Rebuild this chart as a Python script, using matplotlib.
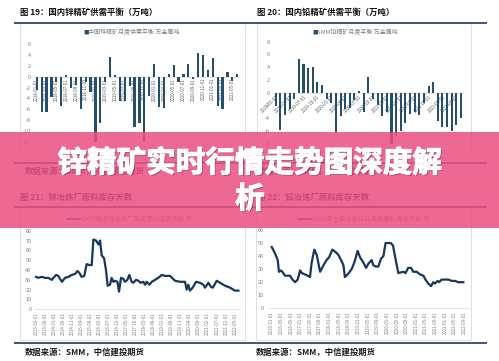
import matplotlib
matplotlib.use('Agg')
import matplotlib.pyplot as plt
import matplotlib.patheffects as pe
from matplotlib.patches import Rectangle
import pandas as pd

plt.rcParams['font.family'] = ['Noto Sans CJK SC', 'DejaVu Sans']
plt.rcParams['axes.unicode_minus'] = False

W, H = 499, 361
BAR = '#24506e'
LINE = '#17375e'
NAVY = '#1f3864'
GRID = '#d9d9d9'
GRAY = '#808080'

# ---- data ----
# fig 19: zinc concentrate monthly balance (10k t metal)
zn_balance = [-2.5, -6.6, -6.6, -3.8, -1.0, -5.4, 0.3, -2.0, -1.5, -6.0,
              -1.0, -2.9, -12.0, -8.5, -1.0, 3.6, 0.3, -4.4, -4.4, -1.7,
              -9.3, -8.6, -12.0, -3.5, 2.3, -5.6, -5.7, 0.5, 2.2, -0.9,
              0.5, 2.3, -0.5, 4.4, 4.0, 1.2, 3.5, -5.4, -6.0, 0.8,
              -0.7, 0.5]
zn_bar_labels = pd.date_range('2018-01-01', periods=len(zn_balance), freq='MS').strftime('%Y-%m-%d')

# fig 20: lead concentrate monthly balance
pb_balance = [-2.1, -5.8, -3.5, -2.6, -1.0, 5.3, 4.5, 3.9, 4.0, 1.7,
              1.2, -1.0, -1.6, -6.3, -3.7, -2.6, -2.4, -1.1, 0.3, -3.0,
              2.5, -1.0, -1.9, -3.7, -3.0, -8.3, -6.8, -6.0, -4.7, -3.4,
              -3.0, -3.5, -1.6, 1.0, 1.6, -4.4, -5.4, -5.4, -6.0, -5.1,
              -3.9]
pb_bar_labels = pd.date_range('2019-01-01', periods=len(pb_balance), freq='MS').strftime('%Y-%m-%d')

# fig 21: zinc smelter raw material stock days (x = months since 2013-03)
zn_month = [0, 1.3, 3.1, 5.0, 6.8, 8.7, 9.6, 11.1, 12.3, 13.6, 14.4, 16.0, 17.9,
            19.7, 21.6, 22.9, 24.0, 25.2, 26.7, 28.0, 29.5, 30.8, 31.7, 33.2,
            34.5, 35.4, 36.3, 37.6, 38.7, 39.6, 40.9, 41.8, 42.8, 43.7, 45.0,
            45.9, 47.0, 48.3, 49.2, 50.5, 51.6, 52.9, 53.8, 55.3, 56.6, 57.9,
            59.3, 60.3, 61.2, 62.7, 64.0, 65.8, 67.6, 69.5, 71.3, 74.1, 76.9,
            79.6, 82.4, 83.3, 84.2, 85.1, 86.6, 88.5, 90.7, 92.5, 93.4, 95.3,
            96.6, 97.7, 99.9, 101.7, 104.5, 107.3, 110.0, 111.9]
zn_days = [33, 32, 33, 32, 32, 30, 32, 35, 34, 30, 28, 32, 33,
           35, 36, 39, 37, 33, 34, 46, 45, 45, 71, 70,
           66, 70, 55, 52, 40, 24, 25, 32, 28, 29, 28,
           18, 32, 31, 28, 30, 35, 28, 27, 30, 29, 27,
           28, 25, 28, 25, 28, 30, 32, 35, 34, 34, 29,
           28, 28, 20, 25, 19, 22, 28, 27, 25, 22, 27,
           23, 22, 29, 27, 24, 22, 19, 19]
zn_ticks = pd.date_range('2013-03-01', periods=23, freq='5MS').strftime('%Y-%m-%d')

# fig 22: lead smelter raw material stock days (x = months since 2016-01)
pb_month = [0, 1.4, 2.5, 3.0, 3.9, 4.4, 5.5, 6.9, 7.6, 8.6, 9.7, 10.8, 11.8,
            12.5, 13.8, 14.9, 15.9, 16.6, 17.7, 18.7, 20.1, 21.5, 22.8, 23.8,
            25.2, 26.6, 27.7, 28.8, 29.8, 30.4, 31.6, 33.2, 34.3, 35.7, 36.7,
            38.1, 39.2, 40.1, 41.5, 42.2, 43.2, 44.3, 45.4, 46.4, 47.3, 48.2,
            49.5, 50.4, 51.2, 52.6, 54.7, 55.6, 56.7, 57.9, 58.8, 60.2, 61.6,
            63.0, 63.9, 65.0, 66.2, 67.1, 67.8, 68.9, 69.5, 70.6, 72.0, 73.4,
            74.7, 76.1, 77.5, 79.6]
pb_days = [47, 42, 37, 28, 29, 28, 25, 25, 25, 22, 20, 22, 29,
           27, 26, 25, 24, 35, 45, 41, 28, 33, 37, 39,
           45, 43, 41, 37, 33, 24, 26, 30, 35, 44, 39,
           35, 31, 34, 37, 33, 32, 32, 38, 40, 50, 50,
           50, 48, 40, 27, 28, 27, 31, 31, 28, 28, 26,
           25, 22, 19, 17, 20, 19, 21, 20, 22, 22, 22,
           21, 21, 20, 20]
pb_ticks = pd.date_range('2016-01-01', periods=21, freq='4MS').strftime('%Y-%m-%d')

fig = plt.figure(figsize=(W / 100, H / 100), dpi=100)
fig.patch.set_facecolor('white')


def px_axes(l, t, r, b, z=1):
    ax = fig.add_axes([l / W, 1 - b / H, (r - l) / W, (b - t) / H])
    ax.set_facecolor('none')
    ax.set_zorder(z)
    return ax


def style(ax, pad):
    for s in ax.spines.values():
        s.set_visible(False)
    ax.tick_params(length=0, labelsize=4, labelcolor=GRAY, pad=pad)


# background layer: frames, rules, titles, sources, legends (pixel coords)
bg = px_axes(0, 0, W, H, z=0)
bg.set_xlim(0, W)
bg.set_ylim(H, 0)
bg.axis('off')

for l, t, r, b in [(20, 22, 245, 158), (257, 22, 471, 158),
                   (20, 207, 245, 340), (256, 207, 471, 340)]:
    bg.add_patch(Rectangle((l, t), r - l, b - t, fill=False, ec=GRID, lw=0.6))
for y in [22.5, 163, 207, 343]:
    bg.plot([14, 487], [y, y], color=NAVY, lw=1.2, solid_capstyle='butt')

titles = [(20, 12, '图 19：国内锌精矿供需平衡（万吨）'),
          (257, 12, '图 20：国内铅精矿供需平衡（万吨）'),
          (20, 197, '图 21：锌冶炼厂原料库存天数'),
          (257, 197, '图 22：铅冶炼厂原料库存天数')]
for x, y, s in titles:
    bg.text(x, y, s, fontsize=6, fontweight='bold', color='#111111', ha='left', va='center')
for x, y in [(25, 171.5), (258, 171.5), (25, 352), (256, 352)]:
    bg.text(x, y, '数据来源：SMM，中信建投期货', fontsize=6, fontweight='bold',
            style='italic', color='#1a1a1a', ha='left', va='center')

# legends
bg.text(83, 32, '■', fontsize=4, color=BAR, ha='left', va='center')
bg.text(88, 32, '中国锌精矿月度供需平衡 万金属吨', fontsize=4.3, color=GRAY, ha='left', va='center')
bg.text(312, 32, '■', fontsize=4, color=BAR, ha='left', va='center')
bg.text(317, 32, 'SMM铅精矿月度平衡 万金属吨', fontsize=4.3, color=GRAY, ha='left', va='center')
bg.plot([67, 80], [219, 219], color=LINE, lw=1.2)
bg.text(81, 219, 'SMM精炼锌冶炼厂月度原料库存天数 天', fontsize=4.6, color=GRAY, ha='left', va='center')
bg.plot([298, 311], [219, 219], color=LINE, lw=1.2)
bg.text(312, 219, 'SMM原生铅冶炼企业月度原料库存天数 天', fontsize=4.6, color=GRAY, ha='left', va='center')

# fig 19 bars
ax1 = px_axes(34.3, 44.3, 239.7, 141.7)
ax1.bar(range(len(zn_balance)), zn_balance, width=0.45, color=BAR, zorder=2)
ax1.set_xlim(-0.5, len(zn_balance) - 0.5)
ax1.set_ylim(-12, 6)
ax1.set_yticks(range(-12, 7, 2))
ax1.set_xticks([])
style(ax1, 2.5)
ax1.axhline(0, color=GRID, lw=0.5, zorder=1)
for i in range(0, len(zn_balance), 2):
    ax1.text(i, -0.25, zn_bar_labels[i], rotation=90, ha='center', va='top',
             fontsize=3.1, color='#595959', zorder=1)

# fig 20 bars
ax2 = px_axes(273.4, 41.7, 463.3, 143.7)
ax2.bar(range(len(pb_balance)), pb_balance, width=0.45, color=BAR, zorder=2)
ax2.set_xlim(-0.5, len(pb_balance) - 0.5)
ax2.set_ylim(-8, 8)
ax2.set_yticks(range(-8, 9, 2))
ax2.set_xticks([])
style(ax2, 2.5)
ax2.axhline(0, color=GRID, lw=0.5, zorder=1)
for i in range(0, len(pb_balance), 3):
    ax2.text(i, -0.25, pb_bar_labels[i], rotation=45, ha='right', va='top',
             rotation_mode='anchor', fontsize=3.1, color='#595959', zorder=1)

# fig 21 line
ax3 = px_axes(34.2, 230.7, 240.4, 309.3)
ax3.plot(zn_month, zn_days, color=LINE, lw=1.6, solid_joinstyle='round')
ax3.set_xlim(-1, 113)
ax3.set_ylim(0, 80)
ax3.set_yticks(range(0, 81, 10))
ax3.set_xticks(range(0, 5 * len(zn_ticks), 5), zn_ticks, rotation=90)
style(ax3, 2)
ax3.tick_params(axis='x', labelsize=3.2, pad=2)
ax3.spines['bottom'].set_visible(True)
ax3.spines['bottom'].set_color(GRID)
ax3.spines['bottom'].set_linewidth(0.5)

# fig 22 line
ax4 = px_axes(269.3, 230, 469.1, 308.3)
ax4.plot(pb_month, pb_days, color=LINE, lw=1.6, solid_joinstyle='round')
ax4.set_xlim(-1, 82)
ax4.set_ylim(0, 60)
ax4.set_yticks(range(0, 61, 10))
ax4.set_xticks(range(0, 4 * len(pb_ticks), 4), pb_ticks, rotation=90)
style(ax4, 4)
ax4.tick_params(axis='x', labelsize=3.2, pad=2)
ax4.spines['bottom'].set_visible(True)
ax4.spines['bottom'].set_color(GRID)
ax4.spines['bottom'].set_linewidth(0.5)

# pink banner with headline on top of everything
top = px_axes(0, 0, W, H, z=10)
top.set_xlim(0, W)
top.set_ylim(H, 0)
top.axis('off')
top.add_patch(Rectangle((0, 132), W, 96, color=(235 / 255, 80 / 255, 129 / 255), alpha=0.86, lw=0))
top.text(250, 181, '锌精矿实时行情走势图深度解\n析', fontsize=21.3, fontweight='bold',
         color='white', ha='center', va='center', multialignment='center', linespacing=1.25,
         path_effects=[pe.withSimplePatchShadow(offset=(0.9, -0.9), shadow_rgbFace='#5a2035', alpha=0.5),
                       pe.withStroke(linewidth=0.8, foreground='white')])

fig.savefig('out.png', dpi=100)
